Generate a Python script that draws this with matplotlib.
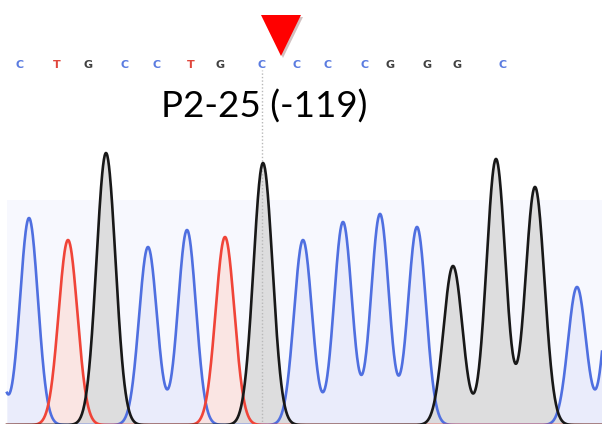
import matplotlib
matplotlib.use("Agg")
import matplotlib.pyplot as plt
import matplotlib.patheffects as pe
import numpy as np

# base calls shown along the top of the trace
BASE_CALLS = list("CTGCCTGCCCCGGGC")
BASE_CALL_X = [20, 57, 88, 125, 157, 191, 220, 262, 297, 328, 365, 390, 427, 457, 503]

# peak tables per dye channel (scan position, signal height)
BLUE_POS = [-12, 29, 148, 187, 303, 343, 380, 417, 577, 615]
BLUE_H = [202, 207, 178, 195, 185, 203, 211, 198, 138, 200]
RED_POS = [68, 225]
RED_H = [185, 188]
BLACK_POS = [106, 263, 453, 496, 535]
BLACK_H = [272, 262, 159, 266, 238]

SIGMA = {"blue": 9.0, "red": 9.4, "black": 9.5}

LABEL = "P2-25 (-119)"
CUT_SITE = 262      # scan position of the dotted marker line
ARROW_X = 281

BASE_COLORS = {"C": "#5a7be0", "T": "#e0463c", "G": "#404040"}


def trace(x, pos, h, sigma):
    y = np.zeros_like(x)
    for p, a in zip(pos, h):
        y += a * np.exp(-(x - p) ** 2 / (2 * sigma ** 2))
    return y


fig = plt.figure(figsize=(6.02, 4.24), dpi=100)
ax = fig.add_axes([0, 0, 1, 1])
ax.set_xlim(0, 602)
ax.set_ylim(1, 425)
ax.axis("off")

x = np.linspace(7, 602, 1500)

# faint panel tint behind the lower part of the trace
ax.fill_between([7, 602], 0, 225, color="#f7f8fe", lw=0, zorder=0)

channels = [
    ("blue", BLUE_POS, BLUE_H, "#4f6fe0", "#e8ebfb"),
    ("red", RED_POS, RED_H, "#f04438", "#fbe2df"),
    ("black", BLACK_POS, BLACK_H, "#181818", "#d9d9d9"),
]
for i, (name, pos, h, line_c, fill_c) in enumerate(channels):
    y = trace(x, pos, h, SIGMA[name])
    ax.fill_between(x, 0, y, color=fill_c, alpha=0.85, lw=0, zorder=1 + i)
for i, (name, pos, h, line_c, fill_c) in enumerate(channels):
    y = trace(x, pos, h, SIGMA[name])
    ax.plot(x, y, color=line_c, lw=1.9, zorder=5 + i, solid_joinstyle="round")

ax.vlines(CUT_SITE, 0, 355, colors="#b8b8b8", linestyles=(0, (1, 1.5)), lw=1, zorder=4)

for b, bx in zip(BASE_CALLS, BASE_CALL_X):
    ax.text(bx, 360, b, color=BASE_COLORS[b], fontsize=8, fontweight="bold",
            ha="center", va="center", family="DejaVu Sans")

ax.text(264.5, 307, LABEL, fontsize=26.5, family="Lato", ha="center", va="baseline",
        color="black", zorder=10)

ax.plot(ARROW_X, 389.5, marker="v", ms=29, color="#ff0000", mec="none",
        path_effects=[pe.SimplePatchShadow(offset=(1.5, -1.5), alpha=0.25), pe.Normal()])

fig.savefig("out.png", dpi=100)
